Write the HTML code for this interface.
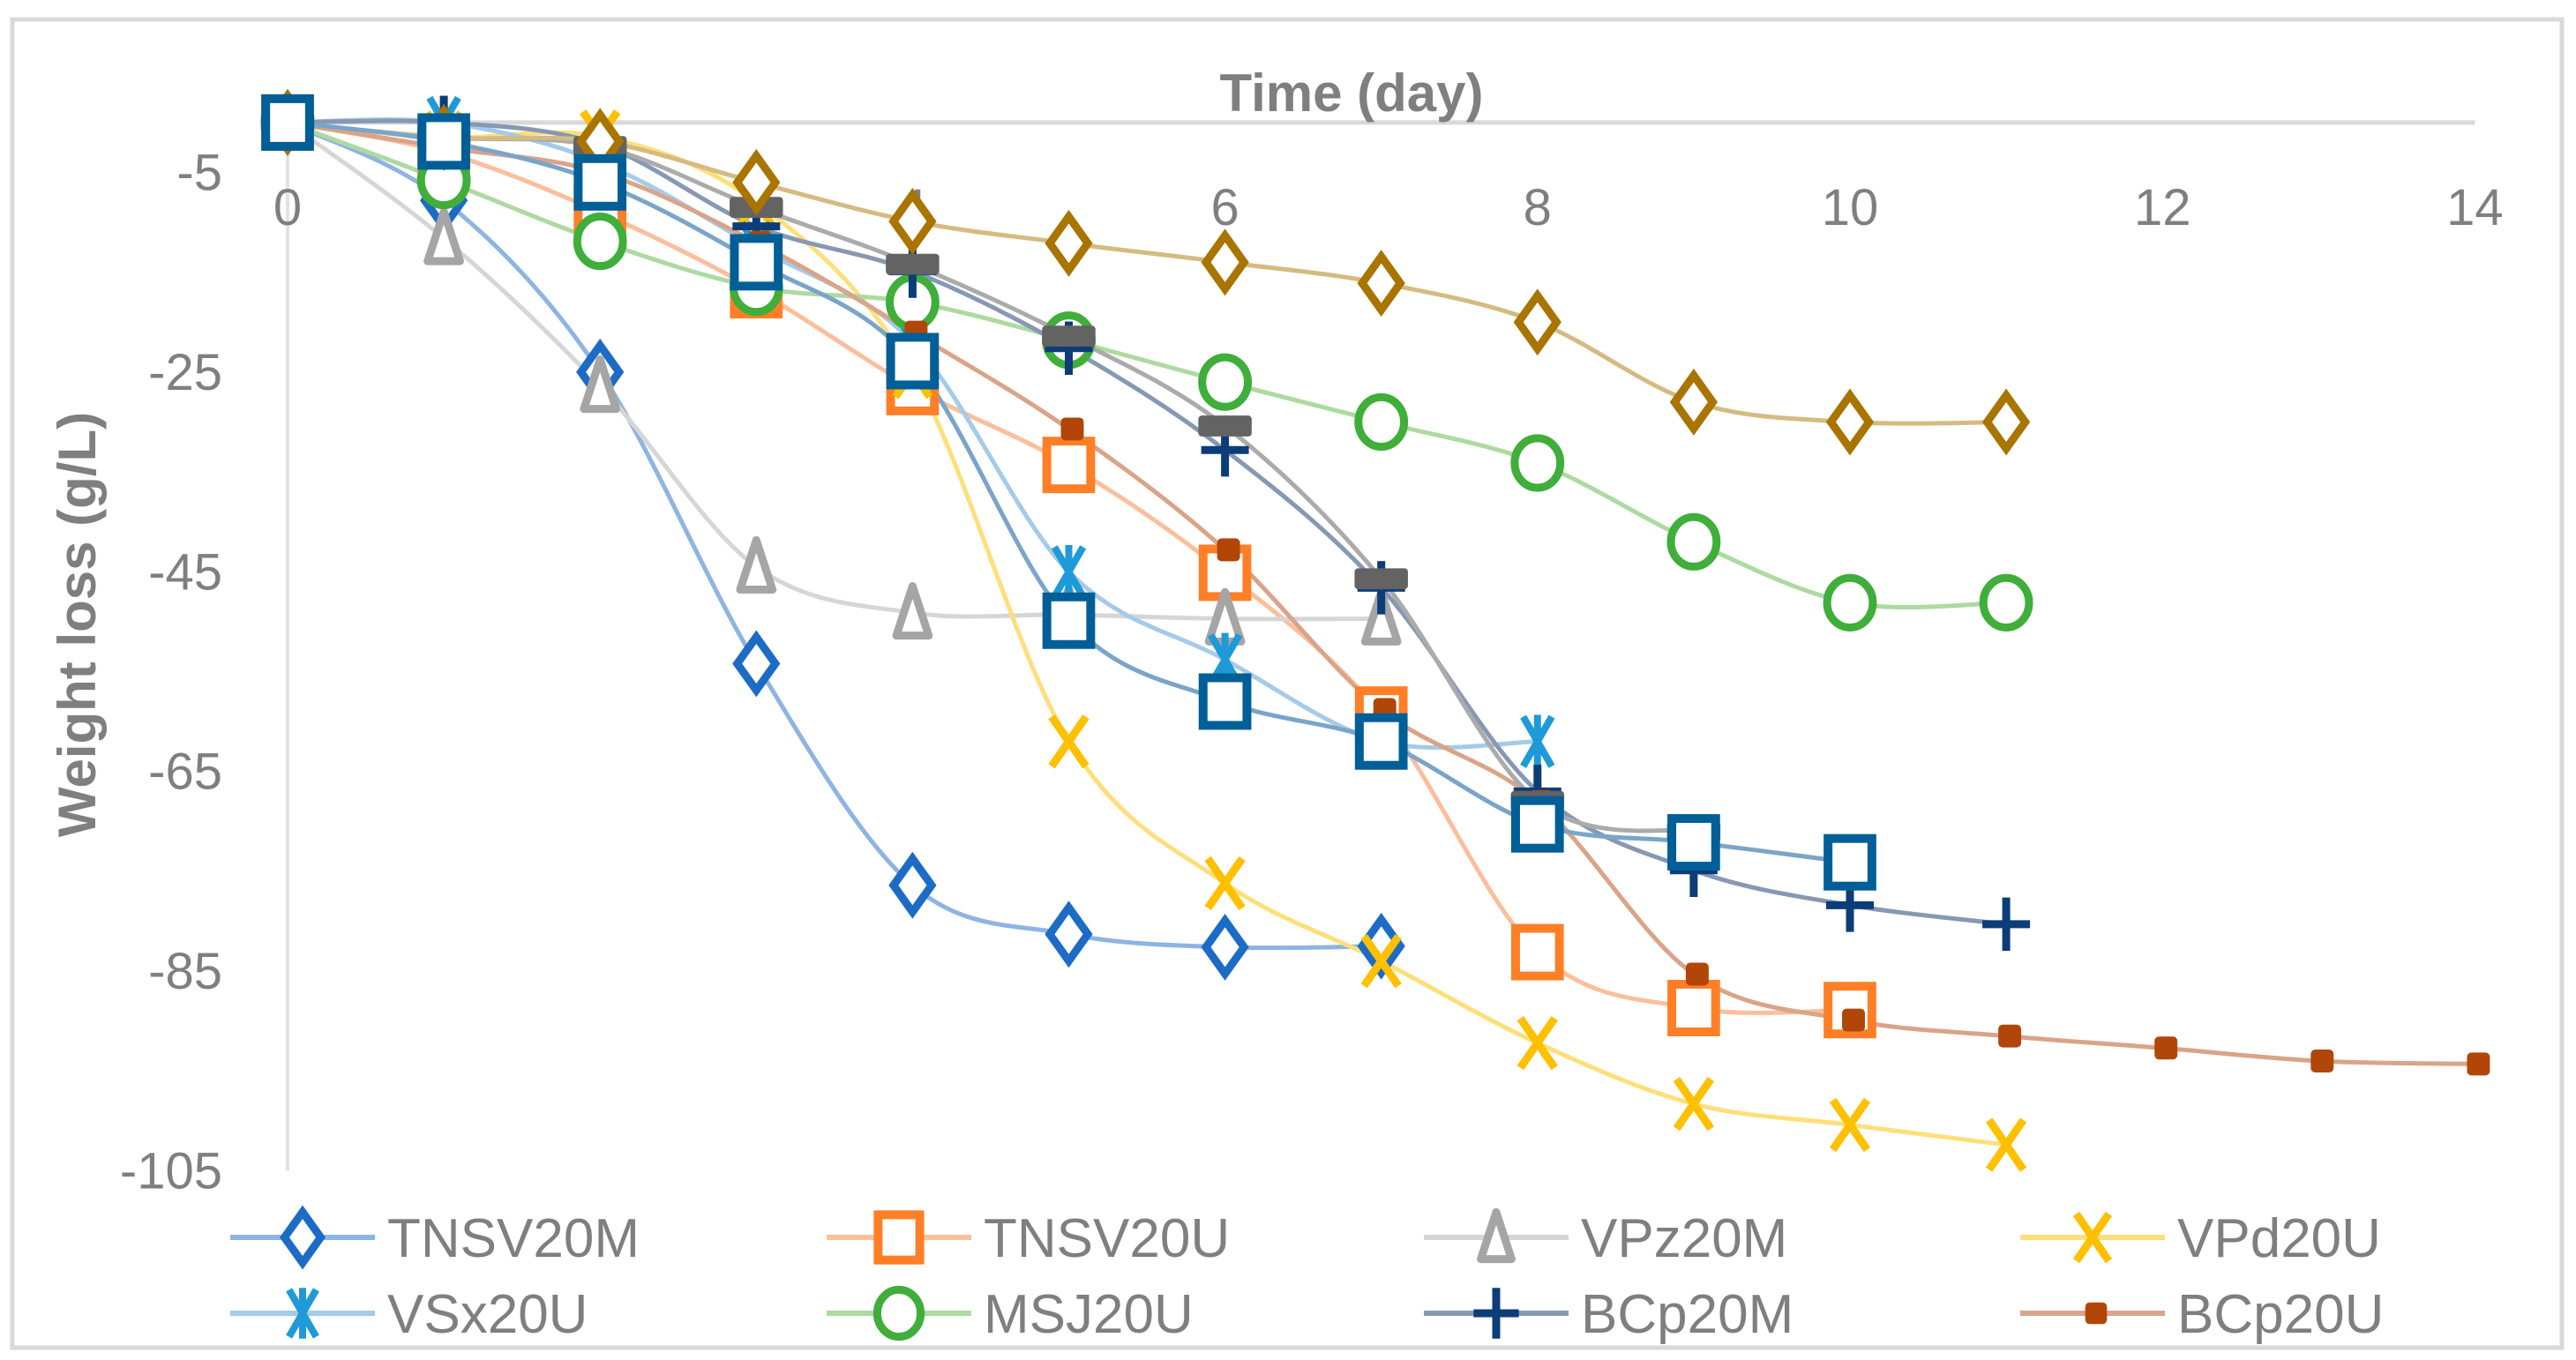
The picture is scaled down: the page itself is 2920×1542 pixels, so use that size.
<!DOCTYPE html>
<html><head><meta charset="utf-8"><style>
html,body{margin:0;padding:0;background:#fff}
svg{display:block}
text{font-family:"Liberation Sans",sans-serif;fill:#7f7f7f}
</style></head><body>
<svg id="chart" width="2920" height="1542" viewBox="0 0 2920 1542">
<rect x="14" y="22" width="2890" height="1506" fill="#fff" stroke="#d9d9d9" stroke-width="5"/>
<g id="axes"></g>
<g id="series"></g>
<g id="legend"></g>
<text x="1532" y="126" font-size="60" font-weight="bold" text-anchor="middle">Time (day)</text>
<text transform="translate(108,708) rotate(-90)" font-size="60" font-weight="bold" text-anchor="middle">Weight loss (g/L)</text>
</svg>
<script>
const days = [0,1,2,3,4,5,6,7,8,9,10,11,12,13,14];
const xTicks = [0,2,4,6,8,10,12,14];
const yTicks = [-5,-25,-45,-65,-85,-105];
const sTNSV20M = [0,-7.8,-25,-54.2,-76.4,-81.3,-82.6,-82.5];
const sTNSV20U = [0,-3,-9,-16.8,-26.5,-34.3,-45.1,-59.3,-83.1,-88.7,-88.9];
const sVPz20M = [0,-11.6,-26.4,-44.5,-49.1,-49.3,-49.7,-49.7];
const sVPd20U = [0,-1.5,-1.4,-8,-25,-62,-76.2,-84,-92.2,-98.3,-100.4,-102.4];
const sVSx20U = [0,0,-4,-12.5,-22,-45,-53.8,-62,-62];
const sMSJ20U = [0,-5.8,-11.9,-16.5,-18,-21.8,-26,-30,-34.1,-42,-48.1,-48.1];
const sBCp20M = [0,0,-2.2,-10.4,-14.9,-22.6,-32.8,-46.6,-67,-74.9,-78.4,-80.3];
const sBCp20U = [0,-2.5,-5,-12,-21,-30.7,-42.8,-58.8,-68,-85.3,-89.9,-91.5,-92.7,-94,-94.3];
const sGrayDash = [0,-1.5,-2.4,-8.5,-14.2,-21.4,-30.4,-45.7,-68,-71];
const sBrownDiamond = [0,-1.5,-1.9,-6,-9.9,-12.1,-14,-16.1,-20,-28,-30,-30];
const sBlueSquare = [0,-1.9,-6,-14,-23.9,-49.9,-58,-62,-70.3,-72.1,-74.1];

const X = d => 326 + d*177.1;
const Y = v => 195.5 + (-5 - v)*11.32;
const NS = 'http://www.w3.org/2000/svg';
function mk(tag, attrs, parent){const e=document.createElementNS(NS,tag);for(const k in attrs)e.setAttribute(k,attrs[k]);parent.appendChild(e);return e;}

const axes=document.getElementById('axes');
let l=mk('line',{x1:X(0),y1:Y(0),x2:X(14),y2:Y(0),stroke:'#d9d9d9','stroke-width':5},axes);


l=mk('line',{x1:X(0),y1:Y(0),x2:X(0),y2:Y(-105),stroke:'#e3e3e3','stroke-width':4},axes);


xTicks.forEach(t=>{const e=mk('text',{x:X(t),y:255,'font-size':58,'text-anchor':'middle'},axes);e.textContent=t;

});
yTicks.forEach(t=>{const e=mk('text',{x:252,y:Y(t)+20,'font-size':58,'text-anchor':'end'},axes);e.textContent=t;

});

function smooth(pts){let d=`M${pts[0][0]},${pts[0][1]}`;for(let i=0;i<pts.length-1;i++){const p0=pts[i-1]||pts[i],p1=pts[i],p2=pts[i+1],p3=pts[i+2]||p2;const c1=[p1[0]+(p2[0]-p0[0])/6,p1[1]+(p2[1]-p0[1])/6],c2=[p2[0]-(p3[0]-p1[0])/6,p2[1]-(p3[1]-p1[1])/6];d+=` C${c1[0]},${c1[1]} ${c2[0]},${c2[1]} ${p2[0]},${p2[1]}`;}return d;}

function marker(type,cx,cy,col,g,s){
 s=(s||1)*1.08;
 if(type==='diamond')return mk('polygon',{points:`${cx},${cy-28*s} ${cx+20*s},${cy} ${cx},${cy+28*s} ${cx-20*s},${cy}`,fill:'#fff',stroke:col,'stroke-width':9},g);
 if(type==='square')return mk('rect',{x:cx-23*s,y:cy-25*s,width:46*s,height:50*s,fill:'#fff',stroke:col,'stroke-width':10},g);
 if(type==='tri')return mk('polygon',{points:`${cx},${cy-28*s} ${cx+17*s},${cy+24*s} ${cx-17*s},${cy+24*s}`,fill:'#fff',stroke:col,'stroke-width':9,'stroke-linejoin':'round'},g);
 if(type==='x')return mk('path',{d:`M${cx-18*s},${cy-26*s}L${cx+18*s},${cy+26*s}M${cx+18*s},${cy-26*s}L${cx-18*s},${cy+26*s}`,stroke:col,'stroke-width':9,fill:'none'},g);
 if(type==='star')return mk('path',{d:`M${cx-15*s},${cy-26*s}L${cx+15*s},${cy+26*s}M${cx+15*s},${cy-26*s}L${cx-15*s},${cy+26*s}M${cx},${cy-28*s}L${cx},${cy+28*s}`,stroke:col,'stroke-width':8,fill:'none'},g);
 if(type==='circle')return mk('ellipse',{cx:cx,cy:cy,rx:24*s,ry:26*s,fill:'#fff',stroke:col,'stroke-width':9},g);
 if(type==='plus')return mk('path',{d:`M${cx-25*s},${cy}L${cx+25*s},${cy}M${cx},${cy-28*s}L${cx},${cy+28*s}`,stroke:col,'stroke-width':9,fill:'none'},g);
 if(type==='dash')return mk('rect',{x:cx+4-12*s,y:cy-12*s,width:24*s,height:24*s,rx:5,fill:col},g);
 if(type==='gdash')return mk('rect',{x:cx-28*s,y:cy-11*s,width:56*s,height:22*s,rx:4,fill:col},g);
}

const seriesList=[
 {name:'TNSV20M',vals:sTNSV20M,type:'diamond',mc:'#1c6cc6',lc:'#8eb4e3',legend:true},
 {name:'TNSV20U',vals:sTNSV20U,type:'square',mc:'#ff7f27',lc:'#fbbf9c',legend:true},
 {name:'VPz20M',vals:sVPz20M,type:'tri',mc:'#a5a5a5',lc:'#d6d6d6',legend:true},
 {name:'VPd20U',vals:sVPd20U,type:'x',mc:'#ffc000',lc:'#ffdf7a',legend:true},
 {name:'VSx20U',vals:sVSx20U,type:'star',mc:'#1f9ad8',lc:'#a4cbe9',legend:true},
 {name:'MSJ20U',vals:sMSJ20U,type:'circle',mc:'#3fae3a',lc:'#addaa0',legend:true},
 {name:'BCp20M',vals:sBCp20M,type:'plus',mc:'#0c3d78',lc:'#8798b4',legend:true},
 {name:'BCp20U',vals:sBCp20U,type:'dash',mc:'#b14608',lc:'#daa488',legend:true},
 {name:'gray-dash-series',vals:sGrayDash,type:'gdash',mc:'#636363',lc:'#ababab',legend:false},
 {name:'brown-diamond-series',vals:sBrownDiamond,type:'diamond',mc:'#a97400',lc:'#d5bb82',legend:false},
 {name:'blue-square-series',vals:sBlueSquare,type:'square',mc:'#005f96',lc:'#7aa5c9',legend:false}
];
const sg=document.getElementById('series');
seriesList.forEach(s=>{
 const g=mk('g',{},sg);
 
 
 const pts=s.vals.map((v,i)=>[X(days[i]),Y(v)]);
 const p=mk('path',{d:smooth(pts),fill:'none',stroke:s.lc,'stroke-width':5},g);
 
 
});
seriesList.forEach(s=>{
 const g=mk('g',{},sg);
 
 
 s.vals.forEach((v,i)=>{const m=marker(s.type,X(days[i]),Y(v),s.mc,g);
 
 });
});
const lg=document.getElementById('legend');
const colX=[261,937,1614,2290], rowY=[1403,1489];
seriesList.filter(s=>s.legend).forEach((s,i)=>{
 const g=mk('g',{},lg);
 
 
 const x0=colX[i%4],y0=rowY[Math.floor(i/4)];
 mk('line',{x1:x0,y1:y0,x2:x0+164,y2:y0,stroke:s.lc,'stroke-width':6},g);
 marker(s.type,x0+82,y0,s.mc,g,0.95);
 const t=mk('text',{x:x0+178,y:y0+22,'font-size':62},g);t.textContent=s.name;
});
</script>
</body></html>
